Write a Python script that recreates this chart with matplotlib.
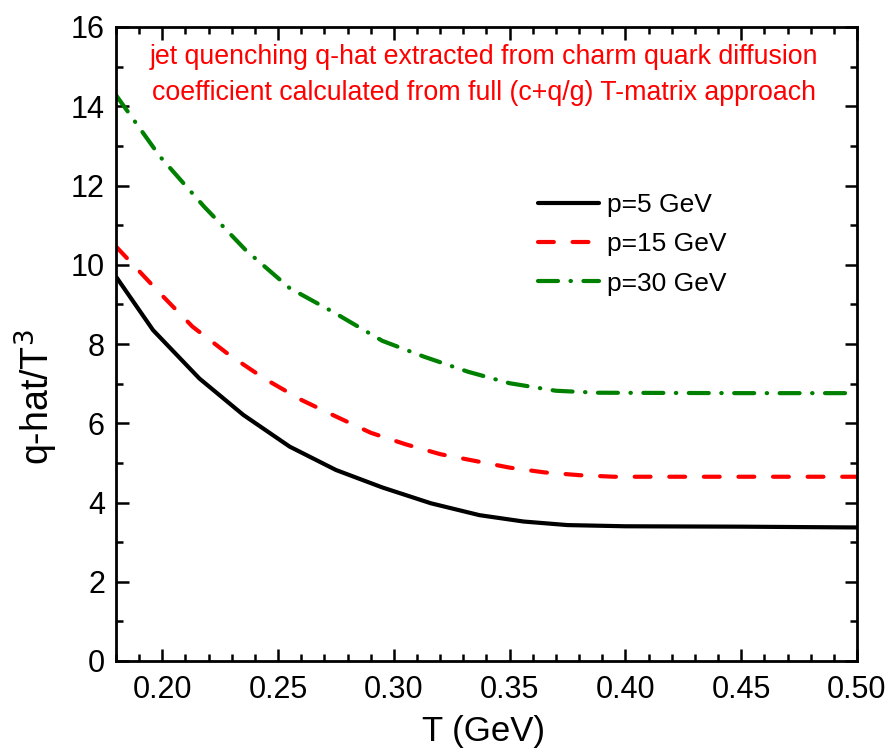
import matplotlib
matplotlib.use('Agg')
import matplotlib.pyplot as plt
from matplotlib.ticker import MultipleLocator

plt.rcParams['font.family'] = ['Liberation Sans', 'DejaVu Sans']

# data
T_p5 = [0.18, 0.196, 0.216, 0.235, 0.255, 0.275, 0.295, 0.316, 0.337, 0.356, 0.375, 0.40, 0.45, 0.50]
q_p5 = [9.70, 8.35, 7.13, 6.21, 5.41, 4.82, 4.38, 3.98, 3.68, 3.52, 3.43, 3.40, 3.39, 3.37]

T_p15 = [0.18, 0.199, 0.213, 0.229, 0.244, 0.260, 0.275, 0.290, 0.305, 0.320, 0.335, 0.350, 0.365, 0.380, 0.395, 0.45, 0.50]
q_p15 = [10.46, 9.28, 8.44, 7.72, 7.13, 6.59, 6.17, 5.76, 5.47, 5.22, 5.05, 4.88, 4.76, 4.69, 4.65, 4.65, 4.65]

T_p30 = [0.18, 0.199, 0.218, 0.236, 0.255, 0.274, 0.295, 0.313, 0.332, 0.350, 0.370, 0.388, 0.45, 0.50]
q_p30 = [14.28, 12.73, 11.47, 10.37, 9.41, 8.80, 8.08, 7.68, 7.30, 7.01, 6.82, 6.77, 6.76, 6.76]

labels = ['p=5 GeV', 'p=15 GeV', 'p=30 GeV']
note1 = 'jet quenching q-hat extracted from charm quark diffusion'
note2 = 'coefficient calculated from full (c+q/g) T-matrix approach'

W, H = 894, 752
fig = plt.figure(figsize=(W / 100, H / 100), dpi=100)
ax = fig.add_axes([116 / W, 1 - 661 / H, (857 - 116) / W, (661 - 27) / H])

lw = 3.0
ax.plot(T_p5, q_p5, color='black', lw=lw, solid_capstyle='round', label=labels[0])
ax.plot(T_p15, q_p15, color='#ff0000', lw=lw, dashes=(3.8, 4.5),
        dash_capstyle='round', label=labels[1])
ax.plot(T_p30, q_p30, color='#008000', lw=lw, dashes=(4.8, 3.0, 0.1, 3.0),
        dash_capstyle='round', label=labels[2])

ax.set_xlim(0.18, 0.50)
ax.set_ylim(0, 16)
ax.xaxis.set_major_locator(MultipleLocator(0.05))
ax.xaxis.set_minor_locator(MultipleLocator(0.01))
ax.yaxis.set_major_locator(MultipleLocator(2))
ax.yaxis.set_minor_locator(MultipleLocator(1))
ax.xaxis.set_major_formatter(matplotlib.ticker.FormatStrFormatter('%.2f'))

for s in ax.spines.values():
    s.set_linewidth(2.0)
ax.tick_params(which='both', direction='in', top=True, right=True, width=1.8)
ax.tick_params(which='major', length=9, labelsize=22)
ax.tick_params(which='minor', length=5)
ax.tick_params(axis='x', which='major', pad=10)
ax.tick_params(axis='y', which='major', pad=8)

fig.text(483 / W, 1 - 731 / H, 'T (GeV)', fontsize=25, ha='center', va='center')
fig.text(36 / W, 1 - 397 / H, 'q-hat/T$^3$', fontsize=27, rotation=90,
         ha='center', va='center')

fig.text(484 / W, 1 - 57 / H, note1, color='#ff0000', fontsize=19.3, ha='center', va='center')
fig.text(484 / W, 1 - 93 / H, note2, color='#ff0000', fontsize=19.3, ha='center', va='center')

ax.legend(loc='upper left', bbox_to_anchor=(538 / W, 1 - 193 / H),
          bbox_transform=fig.transFigure, frameon=False, fontsize=19,
          handlelength=2.3, handletextpad=0.3, labelspacing=0.58,
          borderpad=0, borderaxespad=0)

fig.savefig('out.png', dpi=100)
